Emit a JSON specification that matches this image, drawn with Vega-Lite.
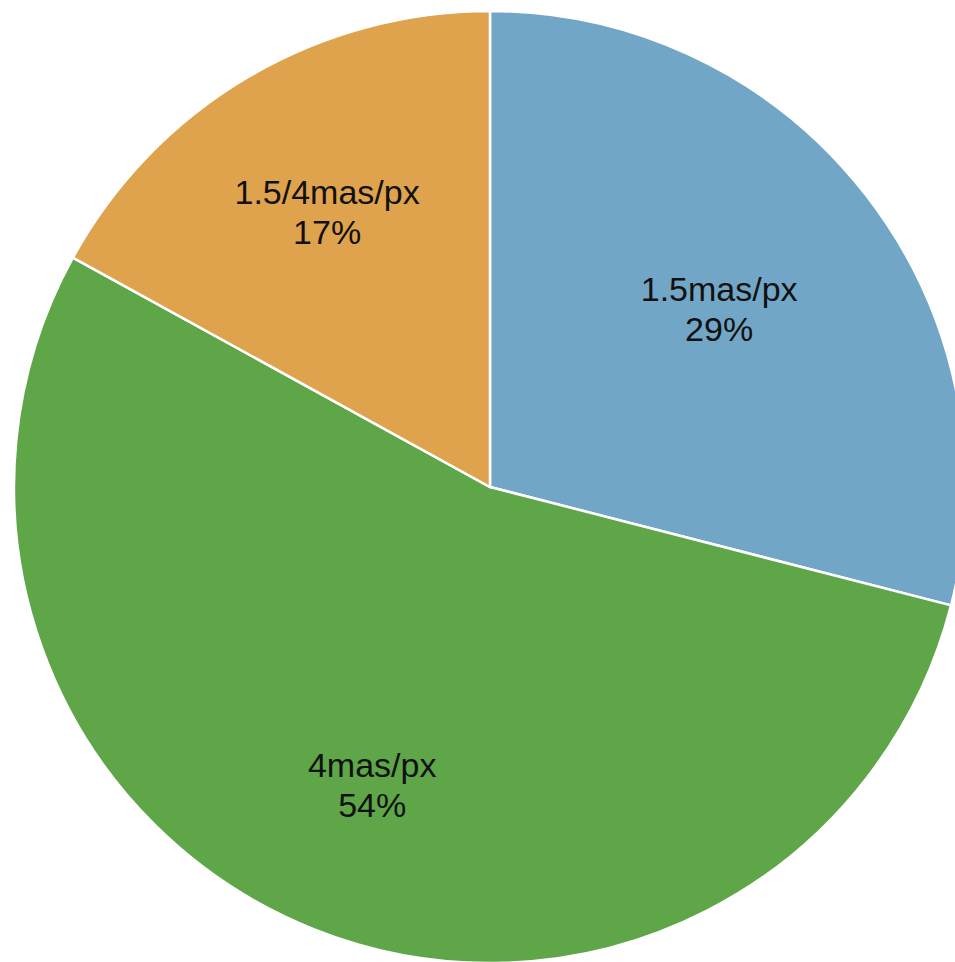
{
  "$schema": "https://vega.github.io/schema/vega-lite/v6.json",
  "width": 980,
  "height": 974,
  "autosize": "none",
  "padding": 0,
  "background": "white",
  "view": {"stroke": null},
  "data": {
    "values": [
      {"label": "1.5mas/px", "share": 29, "order": 1},
      {"label": "4mas/px", "share": 54, "order": 2},
      {"label": "1.5/4mas/px", "share": 17, "order": 3}
    ]
  },
  "transform": [
    {"stack": "share", "groupby": [], "sort": [{"field": "order", "order": "ascending"}], "as": ["start", "end"]},
    {"calculate": "(datum.start + datum.end) / 2", "as": "mid"},
    {"calculate": "datum.label + '\\n' + datum.share + '%'", "as": "caption"}
  ],
  "resolve": {"scale": {"theta": "shared"}},
  "layer": [
    {
      "mark": {"type": "arc", "outerRadius": 476, "stroke": "white", "strokeWidth": 2.5},
      "encoding": {
        "theta": {"field": "start", "type": "quantitative", "stack": null, "scale": {"domain": [0, 100]}},
        "theta2": {"field": "end"},
        "color": {
          "field": "label",
          "type": "nominal",
          "scale": {
            "domain": ["1.5mas/px", "4mas/px", "1.5/4mas/px"],
            "range": ["#72a6c6", "#5ea648", "#dfa34e"]
          },
          "legend": null
        }
      }
    },
    {
      "transform": [{"filter": "datum.label == '1.5mas/px'"}],
      "mark": {
        "type": "text",
        "radius": 290,
        "dy": -18,
        "font": "Liberation Sans",
        "fontSize": 34,
        "lineHeight": 40,
        "lineBreak": "\n",
        "align": "center",
        "baseline": "middle",
        "color": "#111111"
      },
      "encoding": {
        "theta": {"field": "mid", "type": "quantitative", "stack": null, "scale": {"domain": [0, 100]}},
        "text": {"field": "caption", "type": "nominal"}
      }
    },
    {
      "transform": [{"filter": "datum.label != '1.5mas/px'"}],
      "mark": {
        "type": "text",
        "radius": 320,
        "dy": -18,
        "font": "Liberation Sans",
        "fontSize": 34,
        "lineHeight": 40,
        "lineBreak": "\n",
        "align": "center",
        "baseline": "middle",
        "color": "#111111"
      },
      "encoding": {
        "theta": {"field": "mid", "type": "quantitative", "stack": null, "scale": {"domain": [0, 100]}},
        "text": {"field": "caption", "type": "nominal"}
      }
    }
  ]
}
